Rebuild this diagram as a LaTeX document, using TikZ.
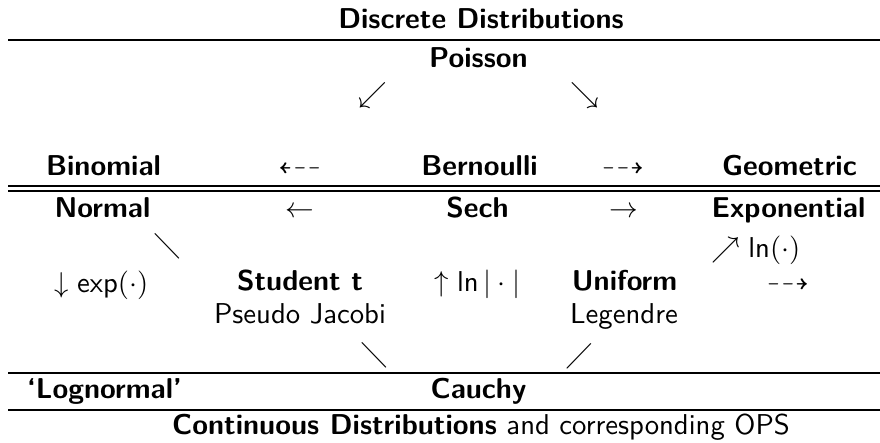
\documentclass[tikz,border=0pt]{standalone}
\usepackage{amssymb}
\renewcommand{\familydefault}{\sfdefault}
\newcommand{\sopln}{\mathop{\mathsf{ln}}\nolimits}
\newcommand{\sopexp}{\mathop{\mathsf{exp}}\nolimits}
\begin{document}
\begin{tikzpicture}[x=0.3484pt,y=-0.3484pt,
  every node/.style={inner sep=0pt,outer sep=0pt,font=\sffamily},
  lbl/.style={anchor=base},
  bflbl/.style={anchor=base,font=\sffamily\bfseries},
  sym/.style={anchor=center},
  tabrule/.style={line width=0.4pt}]
\useasboundingbox (0,0) rectangle (880,442);
% header
\node[bflbl] (disc) at (481,28) {Discrete Distributions};
\draw[tabrule] (8,40) -- (880,40);
\node[bflbl] (poisson) at (478.5,67) {Poisson};
\node[sym] (sw) at (372.5,95) {$\swarrow$};
\node[sym] (se) at (584.5,95) {$\searrow$};
% discrete row
\node[bflbl] (binom) at (103.5,175) {Binomial};
\node[lbl] (dl) at (300,175) {$\dashleftarrow$};
\node[bflbl] (bern) at (479.5,175) {Bernoulli};
\node[lbl] (dr) at (623,175) {$\dashrightarrow$};
\node[bflbl] (geom) at (789.5,175) {Geometric};
\draw[tabrule] (8,186) -- (880,186);
\draw[tabrule] (8,191) -- (880,191);
% continuous rows
\node[bflbl] (normal) at (102.5,217) {Normal};
\node[lbl] (la) at (300,217) {$\leftarrow$};
\node[bflbl] (sech) at (477.5,217) {Sech};
\node[lbl] (ra) at (623.5,217) {$\rightarrow$};
\node[bflbl] (expo) at (788.5,217) {Exponential};
\node[sym] (dd1) at (167.5,245.5) {$\diagdown$};
\node[lbl] (ne) at (756,257) {$\nearrow \sopln(\cdot)$};
\node[lbl] (da) at (101.5,292) {$\downarrow \sopexp(\cdot)$};
\node[bflbl] (student) at (300,290) {Student t};
\node[lbl] (ua) at (477.5,291) {$\uparrow \sopln|\cdot|$};
\node[bflbl] (unif) at (624.5,290) {Uniform};
\node[lbl] (dr2) at (788,291) {$\dashrightarrow$};
\node[lbl] (pj) at (300,323) {Pseudo Jacobi};
\node[lbl] (leg) at (624,323) {Legendre};
\node[sym] (dd2) at (374.5,355) {$\diagdown$};
\node[sym] (du) at (579.5,356) {$\diagup$};
\draw[tabrule] (8,373) -- (880,373);
\node[bflbl] (logn) at (104.5,398) {`Lognormal'};
\node[bflbl] (cauchy) at (478.5,398) {Cauchy};
\draw[tabrule] (8,410) -- (880,410);
\node[lbl] (cont) at (481,434) {\textbf{Continuous Distributions} and corresponding OPS};
\end{tikzpicture}
\end{document}
